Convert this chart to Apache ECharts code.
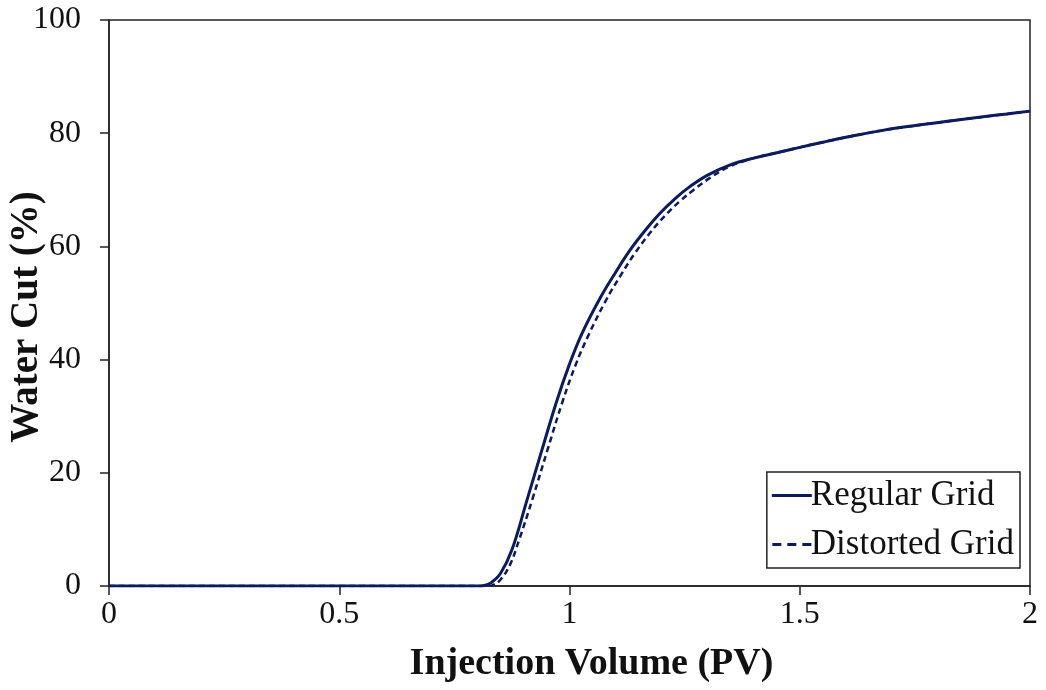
<!DOCTYPE html>
<html>
<head>
<meta charset="utf-8">
<script src="https://cdn.jsdelivr.net/npm/echarts@6/dist/echarts.min.js"></script>
<style>html,body{margin:0;padding:0;background:#fff;}#c{width:1046px;height:690px;}</style>
</head>
<body>
<div id="c"></div>
<script>
var xTicks = ['0', '0.5', '1', '1.5', '2'];
var yTicks = ['0', '20', '40', '60', '80', '100'];
var seriesNames = ['Regular Grid', 'Distorted Grid'];
var xTitle = 'Injection Volume (PV)';
var yTitle = 'Water Cut (%)';
var regularGrid = [[0,0],[0.5,0],[0.8,0],[0.815,0.1],[0.83,0.6],[0.85,2.2],[0.875,6.4],[0.907,15],[0.94,24],[0.972,32.6],[1.0,39.2],[1.027,44.6],[1.066,50.8],[1.1,55.4],[1.131,59.3],[1.165,62.9],[1.197,65.9],[1.23,68.5],[1.262,70.6],[1.3,72.6],[1.349,74.4],[1.4,75.6],[1.464,76.8],[1.5,77.5],[1.55,78.4],[1.609,79.4],[1.68,80.5],[1.755,81.4],[1.83,82.2],[1.898,82.9],[1.95,83.4],[2.0,83.9]];
var distortedGrid = [[0,0],[0.5,0],[0.82,0],[0.835,0.2],[0.85,1.1],[0.87,3.6],[0.89,8],[0.92,15.5],[0.952,24],[0.985,32.6],[1.013,39.0],[1.04,44.1],[1.078,50.3],[1.112,55],[1.142,58.8],[1.175,62.4],[1.207,65.4],[1.24,68],[1.27,70],[1.305,72.1],[1.35,74.2],[1.4,75.6],[1.464,76.8],[1.5,77.5],[1.55,78.4],[1.609,79.4],[1.68,80.5],[1.755,81.4],[1.83,82.2],[1.898,82.9],[1.95,83.4],[2.0,83.9]];

var font = 'Liberation Serif';
var lineColor = '#0b1c5e';
var chart = echarts.init(document.getElementById('c'));
chart.setOption({
  animation: false,
  textStyle: { fontFamily: font },
  grid: { left: 109, right: 16, top: 20, bottom: 104, show: true, borderColor: '#222', borderWidth: 1.5, outerBoundsMode: 'none', containLabel: false },
  graphic: [
    { type: 'text', x: 27, y: 317, rotation: Math.PI / 2,
      style: { text: yTitle, fontFamily: font, fontWeight: 'bold', fontSize: 39, fill: '#111', align: 'center', verticalAlign: 'middle' } }
  ],
  xAxis: {
    type: 'value', min: 0, max: 2, interval: 0.5,
    name: xTitle, nameLocation: 'middle', nameGap: 59,
    nameTextStyle: { fontFamily: font, fontWeight: 'bold', fontSize: 38, color: '#111', padding: [0, 0, 0, 44] },
    axisLine: { lineStyle: { color: '#222', width: 1.5 } },
    axisTick: { show: true, length: 9, lineStyle: { color: '#222', width: 1.5 } },
    axisLabel: { fontFamily: font, fontSize: 32, color: '#111', margin: 13, formatter: function(v){ var s = String(v); return xTicks.indexOf(s) >= 0 ? s : ''; } },
    splitLine: { show: false }
  },
  yAxis: {
    type: 'value', min: 0, max: 100, interval: 20,
    axisLine: { show: true, lineStyle: { color: '#222', width: 1.5 } },
    axisTick: { show: true, length: 9, lineStyle: { color: '#222', width: 1.5 } },
    axisLabel: { fontFamily: font, fontSize: 32, color: '#111', margin: 28, formatter: function(v){ var s = String(v); return yTicks.indexOf(s) >= 0 ? s : ''; } },
    splitLine: { show: false }
  },
  legend: {
    orient: 'vertical', right: 26, bottom: 122,
    backgroundColor: '#fff', borderColor: '#222', borderWidth: 1.5,
    padding: [6, 6, 6, 5], itemGap: 14, itemWidth: 40, itemHeight: 3,
    textStyle: { fontFamily: font, fontSize: 35, color: '#111', padding: [0,0,0,-6] },
    data: [
      { name: seriesNames[0], icon: 'path://M0,0H40V3H0Z', itemStyle: { color: lineColor } },
      { name: seriesNames[1], icon: 'path://M0,0H9V3H0ZM15,0H24V3H15ZM30,0H39V3H30Z', itemStyle: { color: lineColor } }
    ]
  },
  series: [
    { name: seriesNames[0], type: 'line', data: regularGrid, smooth: 0.4, symbol: 'none', lineStyle: { color: lineColor, width: 3, type: 'solid' }, itemStyle: { color: lineColor }, z: 3 },
    { name: seriesNames[1], type: 'line', data: distortedGrid, smooth: 0.4, symbol: 'none', lineStyle: { color: lineColor, width: 2.5, type: [6, 4] }, itemStyle: { color: lineColor }, z: 2 }
  ]
});
</script>
</body>
</html>
